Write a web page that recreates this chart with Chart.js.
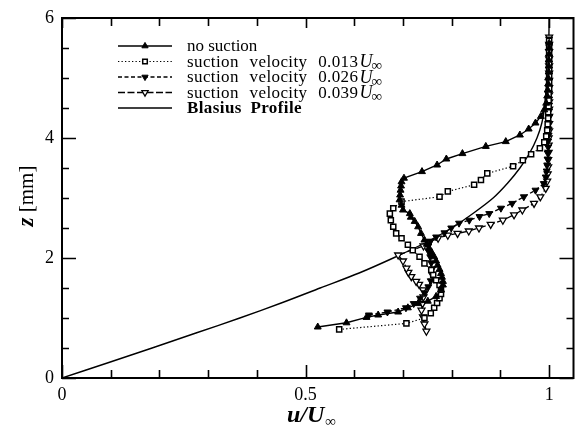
<!DOCTYPE html>
<html>
<head>
<meta charset="utf-8">
<script src="https://cdn.jsdelivr.net/npm/chart.js@4/dist/chart.umd.min.js"></script>
<style>
  html, body { margin: 0; padding: 0; background: #fff; }
  #wrap { width: 579px; height: 429px; position: relative; }
</style>
</head>
<body>
<div id="wrap"><canvas id="c" width="579" height="429"></canvas></div>
<script>
// Axis ticks
const uTicks = [0, 0.1, 0.2, 0.3, 0.4, 0.5, 0.6, 0.7, 0.8, 0.9, 1];
const uTickLabels = ['0', '', '', '', '', '0.5', '', '', '', '', '1'];
const zTicks = [0, 0.5, 1, 1.5, 2, 2.5, 3, 3.5, 4, 4.5, 5, 5.5, 6];
const zTickLabels = ['0', '', '', '', '2', '', '', '', '4', '', '', '', '6'];

// Series names (legend)
const seriesNames = ['no suction', 'suction velocity 0.013', 'suction velocity 0.026', 'suction velocity 0.039', 'Blasius Profile'];

// No suction: u/U∞ against z [mm]
const zNoSuction = [0.85,0.92,1.01,1.05,1.10,1.17,1.24,1.28,1.36,1.47,1.55,1.61,1.68,1.74,1.81,1.88,1.95,2.02,2.09,2.16,2.23,2.30,2.41,2.52,2.61,2.68,2.74,2.80,2.88,2.97,3.05,3.13,3.20,3.27,3.33,3.44,3.55,3.65,3.74,3.86,3.94,4.05,4.15,4.25,4.36,4.47,4.58,4.70,4.80,4.90,5.00,5.10,5.20,5.30,5.40,5.50,5.58];
const uNoSuction = [0.525,0.584,0.625,0.649,0.690,0.710,0.731,0.751,0.768,0.778,0.782,0.782,0.780,0.778,0.775,0.771,0.768,0.764,0.759,0.754,0.749,0.744,0.737,0.731,0.724,0.716,0.714,0.700,0.697,0.693,0.694,0.695,0.696,0.697,0.702,0.739,0.770,0.789,0.822,0.870,0.911,0.940,0.958,0.972,0.983,0.990,0.994,0.996,0.997,0.998,0.998,0.999,0.999,0.999,1.000,1.000,1.000];

// Suction velocity 0.013 U∞
const zSuction013 = [0.81,0.91,1.00,1.08,1.17,1.25,1.33,1.40,1.47,1.55,1.63,1.72,1.80,1.91,2.02,2.13,2.22,2.33,2.41,2.52,2.63,2.74,2.83,2.94,3.02,3.11,3.22,3.30,3.41,3.53,3.63,3.73,3.83,3.93,4.03,4.13,4.23,4.33,4.43,4.53,4.63,4.73,4.83,4.93,5.03,5.13,5.23,5.33,5.43,5.53,5.62];
const uSuction013 = [0.569,0.707,0.744,0.757,0.764,0.770,0.775,0.778,0.778,0.775,0.768,0.762,0.758,0.744,0.734,0.720,0.710,0.697,0.686,0.680,0.675,0.673,0.680,0.697,0.775,0.792,0.846,0.860,0.873,0.926,0.946,0.963,0.981,0.990,0.994,0.996,0.997,0.998,0.998,0.999,0.999,0.999,1.0,1.0,1.0,1.0,1.0,1.0,1.0,1.0,1.0];

// Suction velocity 0.026 U∞
const zSuction026 = [1.05,1.10,1.17,1.24,1.33,1.42,1.52,1.62,1.72,1.82,1.92,2.02,2.12,2.20,2.28,2.35,2.42,2.50,2.58,2.63,2.69,2.74,2.83,2.91,3.02,3.13,3.24,3.35,3.45,3.55,3.65,3.75,3.85,3.95,4.05,4.15,4.25,4.35,4.45,4.55,4.65,4.75,4.85,4.95,5.05,5.15,5.25,5.35,5.45,5.55,5.65];
const uSuction026 = [0.630,0.668,0.706,0.722,0.735,0.745,0.752,0.757,0.760,0.760,0.758,0.756,0.752,0.752,0.756,0.768,0.785,0.799,0.815,0.836,0.857,0.877,0.901,0.924,0.948,0.972,0.989,0.993,0.995,0.996,0.997,0.997,0.998,0.998,0.999,0.999,0.999,1.0,1.0,1.0,1.0,1.0,1.0,1.0,1.0,1.0,1.0,1.0,1.0,1.0,1.0];

// Suction velocity 0.039 U∞
const zSuction039 = [0.78,0.90,1.02,1.13,1.24,1.35,1.47,1.56,1.61,1.69,1.76,1.83,1.95,2.05,2.20,2.27,2.33,2.38,2.41,2.45,2.50,2.56,2.63,2.72,2.80,2.91,3.02,3.16,3.28,3.40,3.52,3.64,3.76,3.88,4.00,4.12,4.24,4.36,4.48,4.60,4.72,4.84,4.96,5.08,5.20,5.32,5.44,5.56,5.68];
const uSuction039 = [0.748,0.744,0.741,0.738,0.740,0.742,0.741,0.733,0.727,0.717,0.711,0.707,0.700,0.690,0.742,0.755,0.772,0.792,0.812,0.835,0.856,0.880,0.905,0.928,0.945,0.969,0.982,0.993,0.996,0.997,0.998,0.998,0.999,0.999,0.999,1.0,1.0,1.0,1.0,1.0,1.0,1.0,1.0,1.0,1.0,1.0,1.0,1.0,1.0];

// Blasius profile
const zBlasius = [0, 0.25, 0.5, 0.75, 1.0, 1.25, 1.5, 1.75, 2.0, 2.25, 2.5, 2.75, 3.0, 3.25, 3.5, 3.75, 4.0, 4.25, 4.5, 5.0, 5.5, 6.0];
const uBlasius = [0, 0.093, 0.185, 0.275, 0.365, 0.45, 0.53, 0.61, 0.68, 0.745, 0.80, 0.845, 0.885, 0.915, 0.94, 0.96, 0.975, 0.985, 0.99, 0.996, 0.999, 1.0];

const pairs = (u, z) => u.map((v, i) => ({ x: v, y: z[i] }));
const SERIF = '"Liberation Serif", "DejaVu Serif", serif';

const datasets = [
  { label: seriesNames[0], data: pairs(uNoSuction, zNoSuction), showLine: true,
    borderColor: '#000', borderWidth: 1.4, borderDash: [],
    pointStyle: 'triangle', pointRotation: 0, pointRadius: 4,
    pointBackgroundColor: '#000', pointBorderColor: '#000', pointBorderWidth: 1 },
  { label: seriesNames[1], data: pairs(uSuction013, zSuction013), showLine: true,
    borderColor: '#000', borderWidth: 1.2, borderDash: [1.3, 2.2],
    pointStyle: 'rect', pointRotation: 0, pointRadius: 3.6,
    pointBackgroundColor: '#fff', pointBorderColor: '#000', pointBorderWidth: 1.5 },
  { label: seriesNames[2], data: pairs(uSuction026, zSuction026), showLine: true,
    borderColor: '#000', borderWidth: 1.3, borderDash: [4, 2.5],
    pointStyle: 'triangle', pointRotation: 180, pointRadius: 4,
    pointBackgroundColor: '#000', pointBorderColor: '#000', pointBorderWidth: 1 },
  { label: seriesNames[3], data: pairs(uSuction039, zSuction039), showLine: true,
    borderColor: '#000', borderWidth: 1.3, borderDash: [7, 2.5],
    pointStyle: 'triangle', pointRotation: 180, pointRadius: 4,
    pointBackgroundColor: '#fff', pointBorderColor: '#000', pointBorderWidth: 1.3 },
  { label: seriesNames[4], data: pairs(uBlasius, zBlasius), showLine: true,
    borderColor: '#000', borderWidth: 1.4, borderDash: [],
    pointRadius: 0, pointStyle: false, tension: 0.3 }
];

// Frame with inward ticks on all four sides
const frameTicks = {
  id: 'frameTicks',
  afterDatasetsDraw(chart) {
    const { ctx, chartArea: a, scales: { x, y } } = chart;
    ctx.save();
    ctx.strokeStyle = '#000';
    ctx.lineWidth = 1.6;
    ctx.beginPath();
    uTicks.forEach((v, i) => {
      const px = Math.round(x.getPixelForValue(v)) + 0.5;
      const major = uTickLabels[i] !== '';
      ctx.moveTo(px, a.bottom); ctx.lineTo(px, a.bottom - (major ? 13 : 8));
      ctx.moveTo(px, a.top); ctx.lineTo(px, a.top + (major ? 10 : 8));
    });
    zTicks.forEach((v, i) => {
      const py = Math.round(y.getPixelForValue(v)) + 0.5;
      const major = zTickLabels[i] !== '';
      ctx.moveTo(a.left, py); ctx.lineTo(a.left + (major ? 14 : 7), py);
      ctx.moveTo(a.right, py); ctx.lineTo(a.right - (major ? 14 : 7), py);
    });
    ctx.stroke();
    ctx.lineWidth = 2;
    ctx.strokeRect(a.left, a.top, a.right - a.left, a.bottom - a.top);
    ctx.restore();
  }
};

// Legend, axis titles
const annotations = {
  id: 'annotations',
  afterDraw(chart) {
    const { ctx, chartArea: a } = chart;
    ctx.save();
    ctx.fillStyle = '#000';
    ctx.strokeStyle = '#000';

    // legend
    const x0 = 118, x1 = 172, xm = 145, xt = 187;
    const rowY = [46, 61.5, 77, 92.5, 108];
    const rowFont = ['17px ', '17px ', '17px ', '17px ', 'bold 17px '];
    const rowWordGap = ['0px', '6px', '6px', '6px', '4px'];
    chart.data.datasets.forEach((ds, i) => {
      const yy = rowY[i];
      ctx.save();
      ctx.lineWidth = ds.borderWidth;
      ctx.setLineDash(ds.borderDash || []);
      ctx.beginPath();
      ctx.moveTo(x0, yy); ctx.lineTo(x1, yy);
      ctx.stroke();
      ctx.restore();
      if (ds.pointStyle) {
        ctx.save();
        ctx.fillStyle = ds.pointBackgroundColor;
        ctx.strokeStyle = ds.pointBorderColor;
        ctx.lineWidth = ds.pointBorderWidth;
        Chart.helpers.drawPoint(ctx, {
          pointStyle: ds.pointStyle, rotation: ds.pointRotation,
          radius: ds.pointRadius * 0.9, borderWidth: ds.pointBorderWidth
        }, xm, yy);
        ctx.restore();
      }
      ctx.textBaseline = 'middle';
      ctx.textAlign = 'left';
      ctx.letterSpacing = i === 0 ? '0px' : '0.4px';
      ctx.wordSpacing = rowWordGap[i];
      ctx.font = rowFont[i] + SERIF;
      ctx.fillText(ds.label, xt, yy + 1);
      if (i >= 1 && i <= 3) {
        const w = ctx.measureText(ds.label).width;
        ctx.letterSpacing = '0px';
        ctx.font = 'italic 18px ' + SERIF;
        ctx.fillText('U', xt + w + 1, yy + 1);
        const wu = ctx.measureText('U').width;
        ctx.font = '15px ' + SERIF;
        ctx.fillText('\u221E', xt + w + wu, yy + 5);
      }
    });
    ctx.letterSpacing = '0px';
    ctx.wordSpacing = '0px';

    // x-axis title: u/U∞
    ctx.textBaseline = 'alphabetic';
    ctx.font = 'bold italic 24px ' + SERIF;
    const main = 'u/U';
    const wMain = ctx.measureText(main).width;
    ctx.font = 'bold 15px ' + SERIF;
    const wInf = ctx.measureText('\u221E').width;
    const xs = 311 - (wMain + wInf) / 2;
    ctx.font = 'bold italic 24px ' + SERIF;
    ctx.fillText(main, xs, 422);
    ctx.font = 'bold 15px ' + SERIF;
    ctx.fillText('\u221E', xs + wMain + 1, 426);

    // y-axis title: z [mm]
    ctx.save();
    ctx.translate(33, (a.top + a.bottom) / 2 - 2);
    ctx.rotate(-Math.PI / 2);
    ctx.font = 'bold italic 23px ' + SERIF;
    const wz = ctx.measureText('z').width;
    ctx.font = '21px ' + SERIF;
    const wmm = ctx.measureText(' [mm]').width;
    const sx = -(wz + wmm) / 2;
    ctx.font = 'bold italic 23px ' + SERIF;
    ctx.fillText('z', sx, 0);
    ctx.font = '21px ' + SERIF;
    ctx.fillText(' [mm]', sx + wz, 0);
    ctx.restore();

    ctx.restore();
  }
};

Chart.defaults.color = '#000';

new Chart(document.getElementById('c'), {
  type: 'scatter',
  data: { datasets },
  options: {
    responsive: false,
    animation: false,
    layout: { padding: { top: 18, right: 3, bottom: 0, left: 0 } },
    plugins: { legend: { display: false }, tooltip: { enabled: false } },
    scales: {
      x: {
        type: 'linear', min: 0, max: 1.05,
        afterBuildTicks: s => { s.ticks = uTicks.map(v => ({ value: v })); },
        afterFit: s => { s.height = 51; },
        ticks: { autoSkip: false, maxRotation: 0, padding: -2, color: '#000',
                 font: { family: SERIF, size: 18 },
                 callback: (v, i) => uTickLabels[i] },
        grid: { display: false }, border: { display: false }
      },
      y: {
        type: 'linear', min: 0, max: 6,
        afterBuildTicks: s => { s.ticks = zTicks.map(v => ({ value: v })); },
        afterFit: s => { s.width = 62; },
        ticks: { autoSkip: false, padding: 0, color: '#000',
                 font: { family: SERIF, size: 18 },
                 callback: (v, i) => zTickLabels[i] },
        grid: { display: false }, border: { display: false }
      }
    }
  },
  plugins: [frameTicks, annotations]
});
</script>
</body>
</html>
